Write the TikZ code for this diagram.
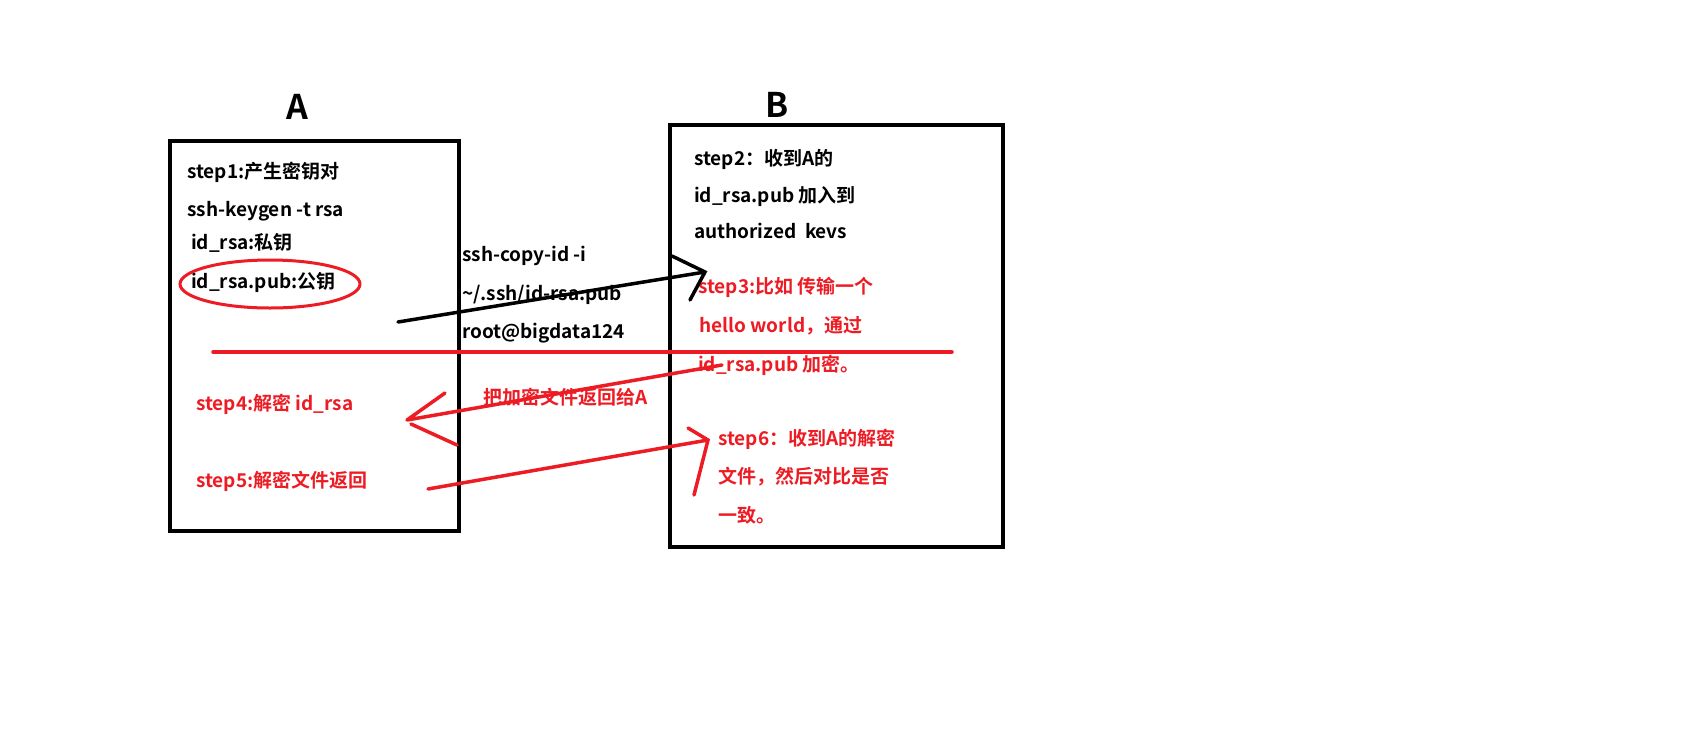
\documentclass[tikz,border=0pt]{standalone}
\usepackage{fontspec}
\setmainfont{Noto Sans CJK SC}[BoldFont={* Bold}]
\definecolor{pr}{RGB}{237,28,36}
\begin{document}
\begin{tikzpicture}[x=1pt,y=-1pt,
  box/.style={draw,line width=4pt},
  tx/.style={anchor=west,inner sep=0,font=\fontsize{19}{21}\selectfont\bfseries},
  rt/.style={tx,text=pr},
  big/.style={inner sep=0,font=\fontsize{34}{36}\selectfont\bfseries},
  ln/.style={line width=3.5pt,line cap=round}]
\useasboundingbox[fill=white] (0,0) rectangle (1692,734);
\node[box,minimum width=289pt,minimum height=390pt,anchor=north west] (bA) at (168,139) {};
\node[box,minimum width=333pt,minimum height=422pt,anchor=north west] (bB) at (668,123) {};
\node[big] (lA) at (297,107) {A};
\node[big] (lB) at (777,105) {B};
\node[tx] (t1) at (187,172) {step1:产生密钥对};
\node[tx] (t2) at (187,211) {ssh-keygen -t rsa};
\node[tx] (t3) at (191,243) {id\_rsa:私钥};
\node[tx] (t4) at (191,282) {id\_rsa.pub:公钥};
\draw[pr,line width=3pt] (270,284) ellipse [x radius=90, y radius=24];
\node[tx] (m1) at (462,256) {ssh-copy-id -i};
\node[tx] (m2) at (462,295) {\textasciitilde/.ssh/id-rsa.pub};
\node[tx] (m3) at (462,333) {root@bigdata124};
\node[tx] (b1) at (694,159) {step2：收到A的};
\node[tx] (b2) at (694,197) {id\_rsa.pub 加入到};
\node[tx] (b3) at (694,231) {authorized\ \ kevs};
\node[rt] (b4) at (698,287) {step3:比如 传输一个};
\node[rt] (b5) at (699,326) {hello world，通过};
\node[rt] (b6) at (698,365) {id\_rsa.pub 加密。};
\node[rt] (a4) at (196,404) {step4:解密 id\_rsa};
\node[rt] (a5) at (196,481) {step5:解密文件返回};
\node[rt] (mm) at (483,397) {把加密文件返回给A};
\node[rt] (b7) at (718,439) {step6：收到A的解密};
\node[rt] (b8) at (718,477) {文件，然后对比是否};
\node[rt] (b9) at (718,515) {一致。};
\coordinate (p1) at (398,322); \coordinate (p2) at (705,272);
\draw[ln] (p1) -- (p2) (672,256) -- (p2) -- (690,300);
\coordinate (h1) at (213,352); \coordinate (h2) at (952,352);
\draw[ln,pr] (h1) -- (h2);
\coordinate (q1) at (722,365); \coordinate (q2) at (407,420);
\draw[ln,pr] (q1) -- (q2) (445,393) -- (q2) (411,424) -- (457,445);
\coordinate (r1) at (428,489); \coordinate (r2) at (708,440);
\draw[ln,pr] (r1) -- (r2) (688,428) -- (r2) -- (694,495);
\end{tikzpicture}
\end{document}
